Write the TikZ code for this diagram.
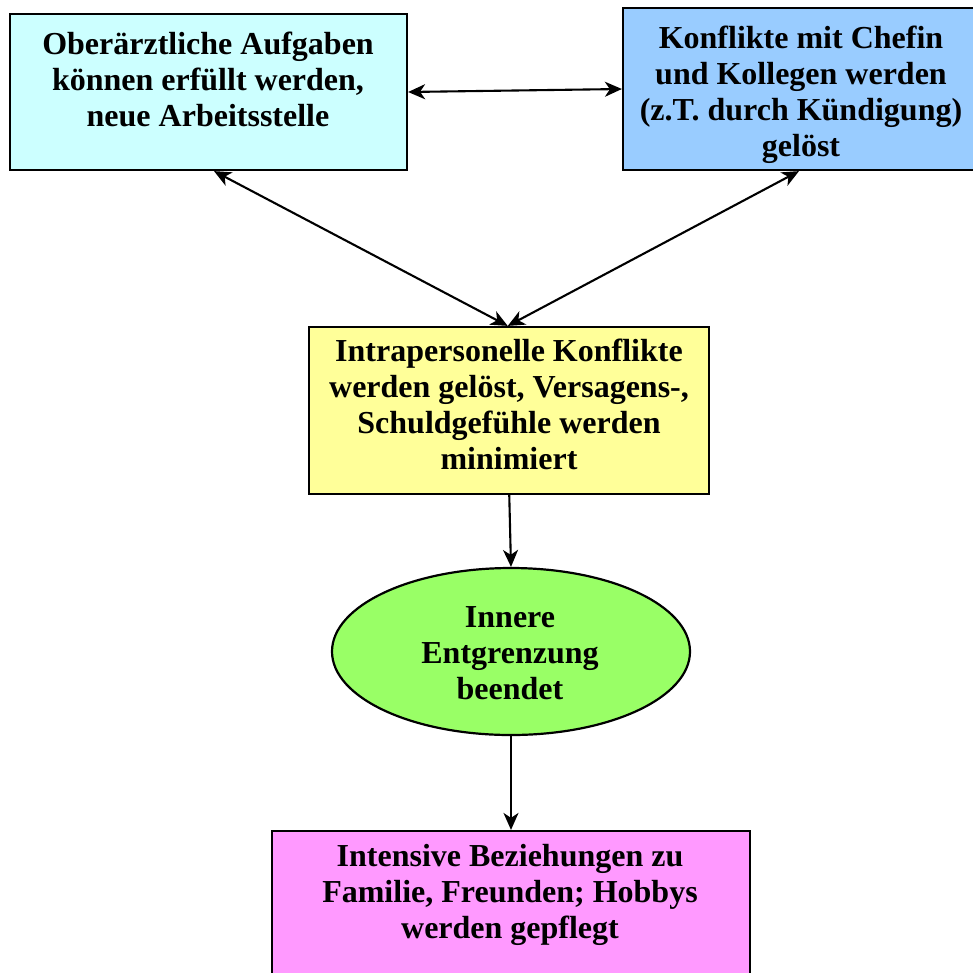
\documentclass[tikz,border=0pt]{standalone}
\usepackage{fontspec}
\setmainfont{Liberation Serif}
\usetikzlibrary{arrows.meta,shapes.geometric}

\definecolor{cyanfill}{HTML}{CCFFFF}
\definecolor{bluefill}{HTML}{99CCFF}
\definecolor{yellowfill}{HTML}{FFFF99}
\definecolor{greenfill}{HTML}{99FF66}
\definecolor{pinkfill}{HTML}{FF99FF}

\begin{document}
\begin{tikzpicture}[x=1pt,y=-1pt,
  box/.style={draw=black, line width=2.2pt, inner sep=0pt, rectangle},
  oval/.style={draw=black, line width=2.2pt, inner sep=0pt, ellipse},
  txt/.style={font=\fontsize{32}{36}\selectfont\bfseries, align=center, inner sep=0pt},
  link/.style={line width=2.1pt, draw=black,
    arrows={Stealth[length=17pt,width=15pt,inset=5pt]-Stealth[length=17pt,width=15pt,inset=5pt]}},
  onelink/.style={line width=2.1pt, draw=black,
    arrows={-Stealth[length=17pt,width=15pt,inset=5pt]}}]

\useasboundingbox (0,0) rectangle (973,972);
\clip (0,0) rectangle (973,972);

% boxes
\node[box, fill=cyanfill, minimum width=397pt, minimum height=156pt] (ober) at (208.5,92) {};
\node[box, fill=bluefill, minimum width=356pt, minimum height=162pt] (konf) at (801,89) {};
\node[box, fill=yellowfill, minimum width=400pt, minimum height=167pt] (intra) at (509.25,410.5) {};
\node[oval, fill=greenfill, minimum width=358pt, minimum height=167pt] (ell) at (511,651.5) {};
\node[box, fill=pinkfill, minimum width=478pt, minimum height=170pt] (fam) at (511,916) {};

% labels
\node[txt] (ober-t) at (208,82.8) {\strut Oberärztliche Aufgaben\\\strut können erfüllt werden,\\\strut neue Arbeitsstelle};
\node[txt] (konf-t) at (801,94.8) {\strut Konflikte mit Chefin\\\strut und Kollegen werden\\\strut (z.T. durch Kündigung)\\\strut gelöst};
\node[txt] (intra-t) at (509,408.5) {\strut Intrapersonelle Konflikte\\\strut werden gelöst, Versagens-,\\\strut Schuldgefühle werden\\\strut minimiert};
\node[txt] (ell-t) at (510,656.6) {\strut Innere\\\strut Entgrenzung\\\strut beendet};
\node[txt] (fam-t) at (510,895.3) {\strut Intensive Beziehungen zu\\\strut Familie, Freunden; Hobbys\\\strut werden gepflegt};

% connectors
\draw[link] (ober.east) -- (konf.west);
\draw[link] ([xshift=5.5pt]ober.south) -- ([xshift=-1.5pt]intra.north);
\draw[link] ([xshift=-2pt]konf.south) -- ([xshift=-1.5pt]intra.north);
\draw[onelink] (intra.south) -- (ell.north);
\draw[onelink] (ell.south) -- (fam.north);
\end{tikzpicture}
\end{document}
